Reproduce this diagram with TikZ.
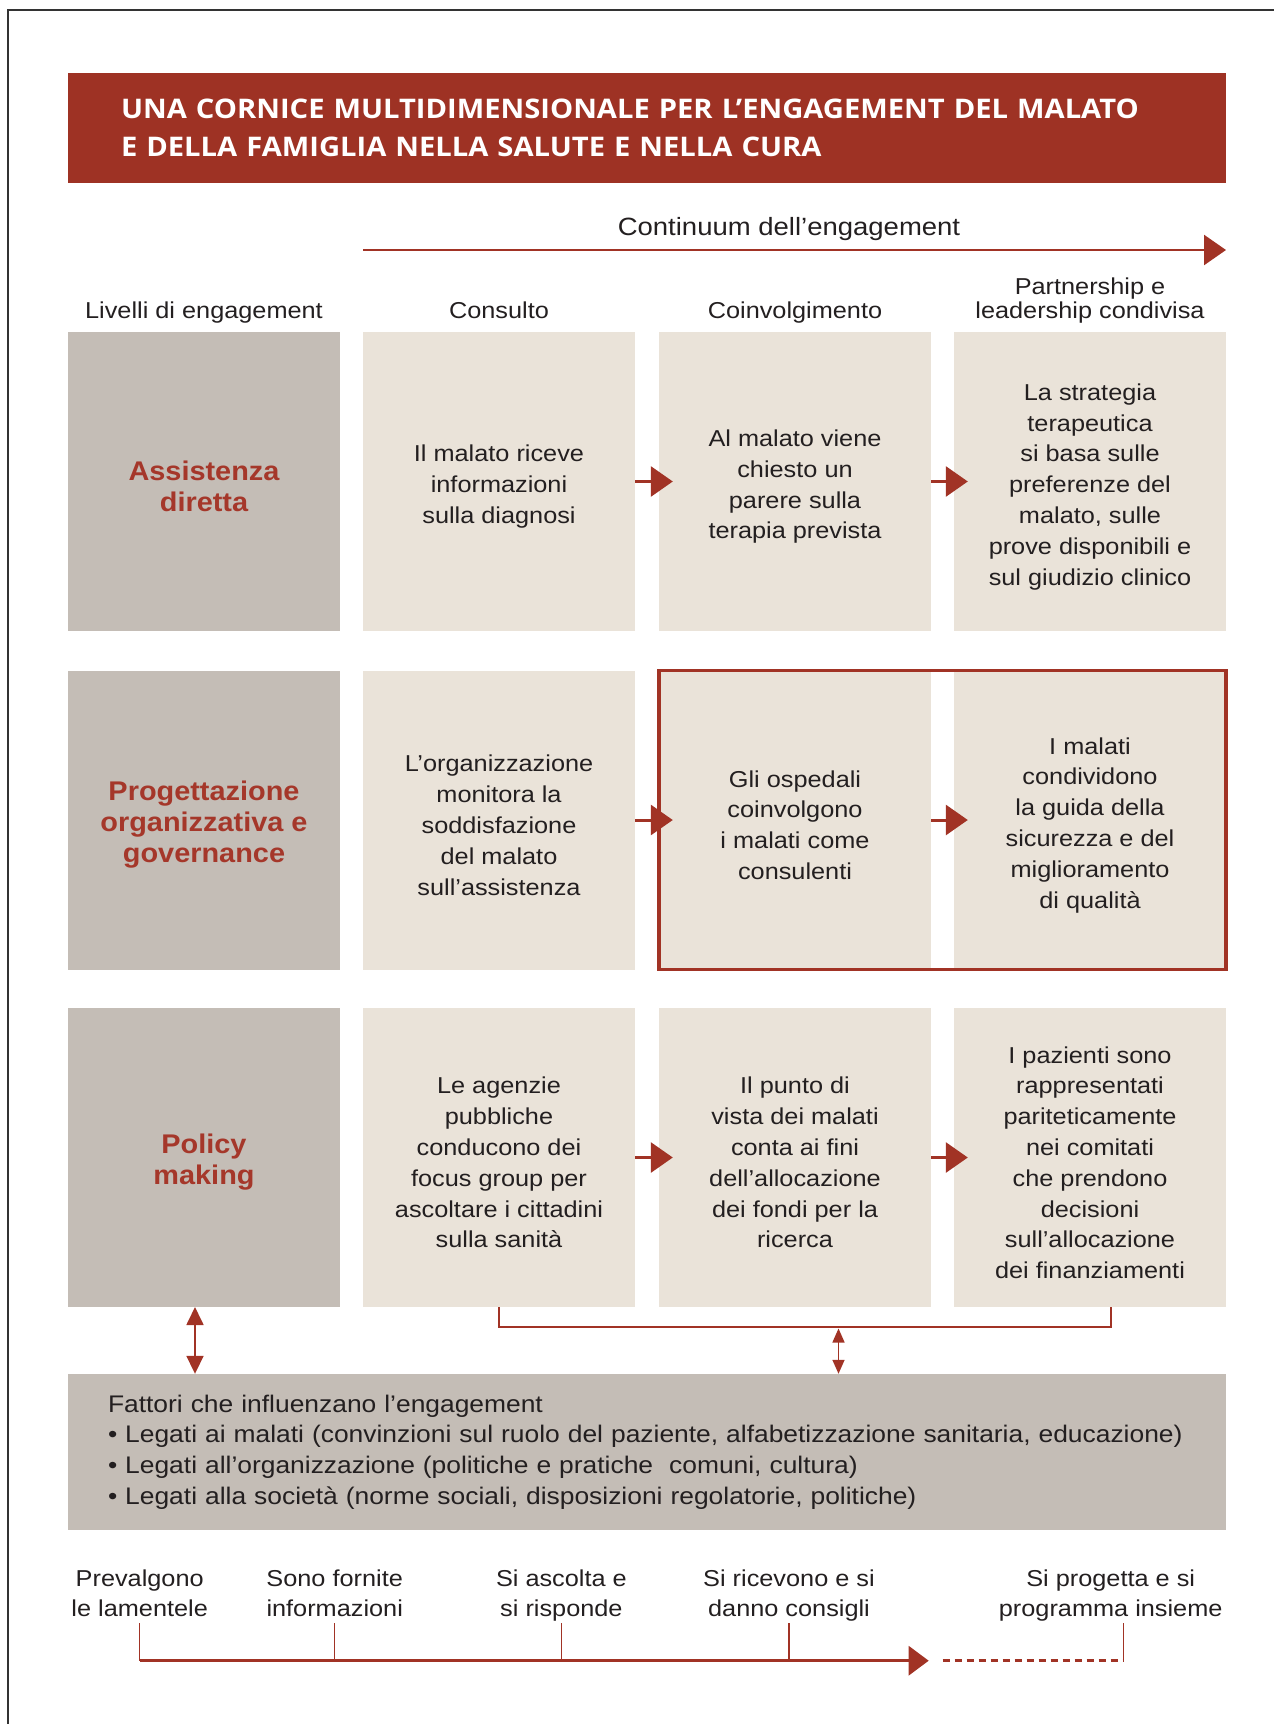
\documentclass[tikz,border=0pt]{standalone}
\usepackage{fontspec}
\setmainfont{Liberation Sans}[FakeStretch=1.1]
\newfontfamily\lblfont{Liberation Sans}[FakeStretch=1.07]
\newfontfamily\titlefont{Open Sans}[FakeStretch=1.08]
\usetikzlibrary{arrows.meta}
\definecolor{tred}{HTML}{9E3224}
\definecolor{ared}{HTML}{A13325}
\definecolor{lred}{HTML}{A5372A}
\definecolor{gbox}{HTML}{C4BDB6}
\definecolor{bbox}{HTML}{EAE3D9}
\definecolor{txt}{HTML}{231F20}
\definecolor{brd}{HTML}{333333}
\newcommand{\bodyfnt}{\fontsize{23}{30.8}\selectfont}
\newcommand{\ds}{\rule{0pt}{27pt}}
\newcommand{\dl}{\rule{0pt}{29pt}}
\tikzset{
  box/.style={minimum width=272pt, minimum height=299pt, inner sep=0pt, align=center, text=txt, font=\bodyfnt},
  beige/.style={box, fill=bbox},
  grayb/.style={box, fill=gbox, text=lred, font=\lblfont\bfseries\fontsize{27}{31}\selectfont},
  hdr/.style={inner sep=0pt, text=txt, font=\bodyfnt, align=center},
  flow/.style={draw=ared, line width=3pt, -{Triangle[length=22pt,width=30pt]}},
  frame/.style={draw=ared, line width=3.5pt},
  bracket/.style={draw=ared, line width=2pt},
  dblbig/.style={draw=ared, line width=1.8pt, {Triangle[length=18pt,width=17pt]}-{Triangle[length=18pt,width=17pt]}},
  dblsmall/.style={draw=ared, line width=1.5pt, {Triangle[length=14pt,width=12pt]}-{Triangle[length=14pt,width=12pt]}},
  tick/.style={draw=ared, line width=1.2pt},
  tline/.style={draw=ared, line width=3pt, -{Triangle[length=20pt,width=29pt]}},
  dline/.style={draw=ared, line width=3pt, dash pattern=on 7pt off 5pt},
  tlabel/.style={inner sep=0pt, text=txt, font=\fontsize{23}{30}\selectfont, align=center}
}
\begin{document}
\begin{tikzpicture}[x=1pt,y=-1pt]
\useasboundingbox (0,0) rectangle (1274,1724);
% page border
\draw[brd, line width=2pt] (8,1724) -- (8,10) -- (1274,10);
% title
\node[fill=tred, minimum width=1158pt, minimum height=110pt, text width=1052pt, inner xsep=53pt, inner ysep=0pt, align=left, text=white, font=\titlefont\bfseries\fontsize{27}{38}\selectfont] (title) at (647,127.5)
 {UNA CORNICE MULTIDIMENSIONALE PER L’ENGAGEMENT DEL MALATO\\E DELLA FAMIGLIA NELLA SALUTE E NELLA CURA};
% continuum
\node[hdr, anchor=base, font=\fontsize{25}{30}\selectfont] (cont) at (789,235) {Continuum dell’engagement};
\coordinate (cs) at (363,250);
\coordinate (ce) at (1226,250);
\draw[draw=ared, line width=2.5pt, -{Triangle[length=22pt,width=30pt]}] (cs) -- (ce);
% headers
\node[hdr, anchor=base] (hlev) at (204,318) {Livelli di engagement};
\node[hdr, anchor=base] (hcon) at (499,318) {Consulto};
\node[hdr, anchor=base] (hcoi) at (795,318) {Coinvolgimento};
\node[hdr, anchor=base, font=\fontsize{23}{23.5}\selectfont] (hpar) at (1090,318) {Partnership e\\leadership condivisa};
% row 1
\node[grayb] (b11) at (204,481.5) {\dl Assistenza\\diretta};
\node[beige] (b12) at (499,481.5) {\ds Il malato riceve\\informazioni\\sulla diagnosi};
\node[beige] (b13) at (795,481.5) {\ds Al malato viene\\chiesto un\\parere sulla\\terapia prevista};
\node[beige] (b14) at (1090,481.5) {\ds La strategia\\terapeutica\\si basa sulle\\preferenze del\\malato, sulle\\prove disponibili e\\sul giudizio clinico};
% row 2
\node[grayb] (b21) at (204,820) {\dl Progettazione\\organizzativa e\\governance};
\node[beige] (b22) at (499,820) {\ds L’organizzazione\\monitora la\\soddisfazione\\del malato\\sull’assistenza};
\node[beige] (b23) at (795,820) {\ds Gli ospedali\\coinvolgono\\i malati come\\consulenti};
\node[beige] (b24) at (1090,820) {\ds I malati\\condividono\\la guida della\\sicurezza e del\\miglioramento\\di qualità};
% row 3
\node[grayb] (b31) at (204,1157.5) {\dl Policy\\making};
\node[beige] (b32) at (499,1157.5) {\ds Le agenzie\\pubbliche\\conducono dei\\focus group per\\ascoltare i cittadini\\sulla sanità};
\node[beige] (b33) at (795,1157.5) {\ds Il punto di\\vista dei malati\\conta ai fini\\dell’allocazione\\dei fondi per la\\ricerca};
\node[beige] (b34) at (1090,1157.5) {\ds I pazienti sono\\rappresentati\\pariteticamente\\nei comitati\\che prendono\\decisioni\\sull’allocazione\\dei finanziamenti};
% highlight frame
\draw[frame] (b23.north west) rectangle (b24.south east);
% flow arrows
\draw[flow] (b12.east) -- ([xshift=14pt]b13.west);
\draw[flow] (b13.east) -- ([xshift=14pt]b14.west);
\draw[flow] (b22.east) -- ([xshift=14pt]b23.west);
\draw[flow] (b23.east) -- ([xshift=14pt]b24.west);
\draw[flow] (b32.east) -- ([xshift=14pt]b33.west);
\draw[flow] (b33.east) -- ([xshift=14pt]b34.west);
% factors box
\node[fill=gbox, minimum width=1158pt, minimum height=156pt, text width=1078pt, inner xsep=40pt, inner ysep=0pt, align=left, text=txt, font=\fontsize{24}{30.8}\selectfont] (fac) at (647,1452)
 {Fattori che influenzano l’engagement\\
  • Legati ai malati (convinzioni sul ruolo del paziente, alfabetizzazione sanitaria, educazione)\\
  • Legati all’organizzazione (politiche e pratiche\ \ comuni, cultura)\\
  • Legati alla società (norme sociali, disposizioni regolatorie, politiche)};
% bracket and double arrows
\coordinate (brl) at (b32.south);
\coordinate (brr) at (1111,1307);
\coordinate (brm) at (838.5,1328.5);
\draw[bracket] (brl) -- ++(0,20) -| (brr);
\draw[dblsmall] (brm) -- (brm |- fac.north);
\coordinate (la) at (195,1307);
\draw[dblbig] (la) -- (la |- fac.north);
% bottom timeline
\node[tlabel, anchor=base] (l1) at (139.7,1616) {Prevalgono\\le lamentele};
\node[tlabel, anchor=base] (l2) at (334.7,1616) {Sono fornite\\informazioni};
\node[tlabel, anchor=base] (l3) at (561.4,1616) {Si ascolta e\\si risponde};
\node[tlabel, anchor=base] (l4) at (789,1616) {Si ricevono e si\\danno consigli};
\node[tlabel, anchor=base] (l5) at (1110.7,1616) {Si progetta e si\\programma insieme};
\coordinate (ms) at (139.7,1660.7);
\coordinate (me) at (928.7,1660.7);
\coordinate (dls) at (942.5,1660.7);
\coordinate (dle) at (1123.7,1660.7);
\coordinate (t1) at (139.7,1623);
\coordinate (t2) at (334.7,1623);
\coordinate (t3) at (561.4,1623);
\coordinate (t4) at (789,1623);
\coordinate (t5) at (1123.7,1623);
\draw[tick] (t1) -- (t1 |- ms);
\draw[tick] (t2) -- (t2 |- ms);
\draw[tick] (t3) -- (t3 |- ms);
\draw[tick] (t4) -- (t4 |- ms);
\draw[tick] (t5) -- (dle);
\draw[tline] (ms) -- (me);
\draw[dline] (dls) -- (dle);
\end{tikzpicture}
\end{document}
